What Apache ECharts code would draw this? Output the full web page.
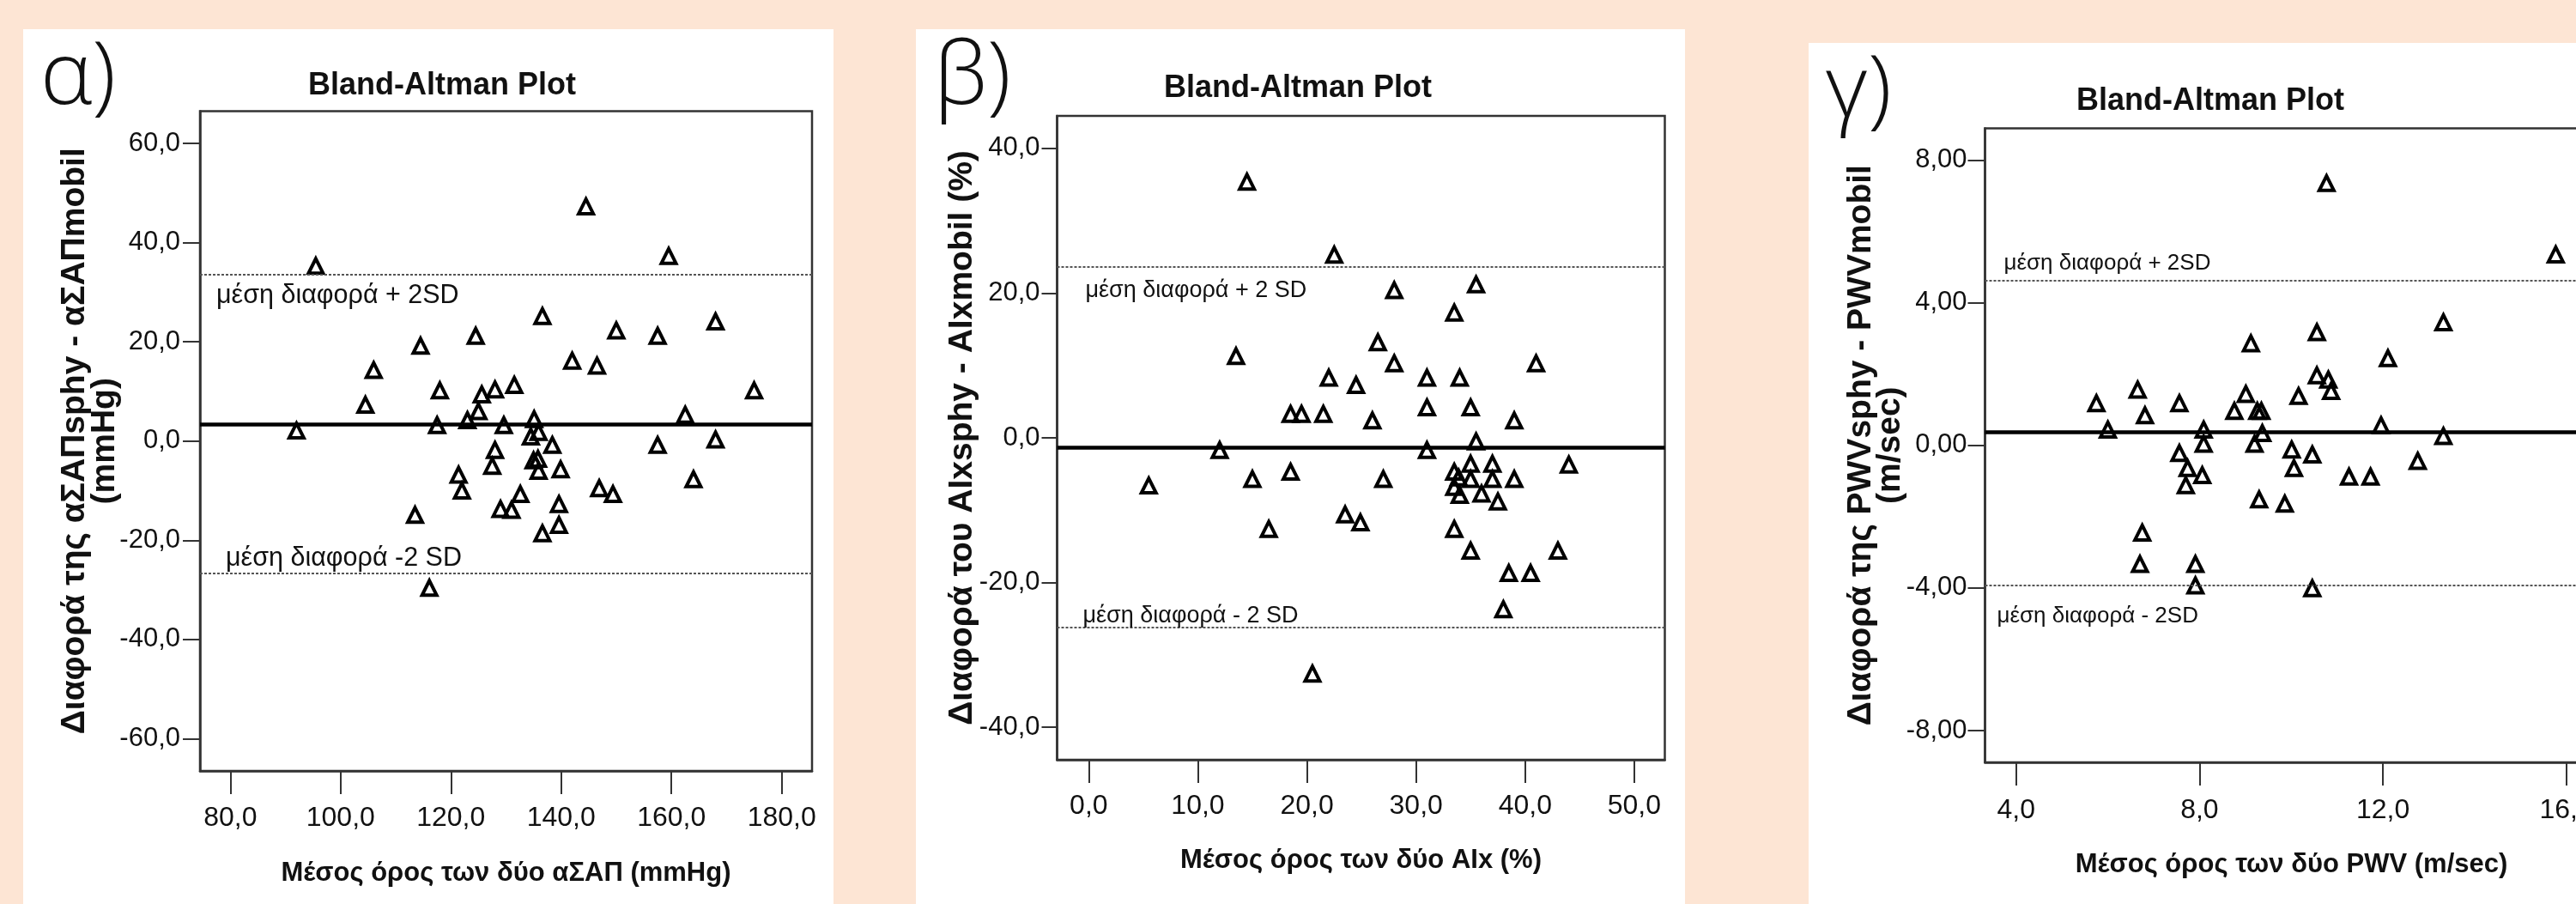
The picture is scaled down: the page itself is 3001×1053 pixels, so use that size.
<!DOCTYPE html>
<html>
<head>
<meta charset="utf-8">
<title>Bland-Altman Plots</title>
<script src="https://cdn.jsdelivr.net/npm/echarts@6/dist/echarts.min.js"></script>
<style>
html, body { margin: 0; padding: 0; overflow: hidden; background: #fde5d4; }
#main { width: 3040px; height: 1053px; }
</style>
</head>
<body>
<div id="main"></div>
<script>
// α) aΣΑΠ (mmHg): mean of the two vs difference
const alphaAvg = [144.5, 95.5, 136.6, 168.0, 124.5, 114.5, 106.0, 142.0, 146.5, 118.0,
  128.0, 125.6, 131.5, 104.5, 125.0, 123.0, 92.0, 117.5, 129.6, 135.1,
  135.9, 134.5, 138.4, 128.0, 127.5, 135.0, 135.8, 135.9, 139.9, 121.4,
  122.0, 132.6, 129.0, 131.0, 139.6, 139.6, 136.6, 113.5, 146.9, 149.4,
  116.1, 159.5, 150.0, 157.5, 175.0, 162.5, 157.5, 168.0, 164.0];
const alphaDiff = [47.3, 35.3, 25.2, 24.1, 21.2, 19.2, 14.3, 16.2, 15.2, 10.2,
  10.4, 9.4, 11.3, 7.3, 6.0, 4.2, 2.1, 3.2, 3.2, 4.4,
  1.8, 0.9, -0.8, -1.8, -5.0, -3.9, -3.6, -6.0, -5.7, -6.8,
  -10.0, -10.7, -13.7, -13.9, -12.7, -16.9, -18.6, -14.9, -9.5, -10.7,
  -29.6, 37.3, 22.3, 21.2, 10.2, 5.3, -0.8, 0.3, -7.7];
const alphaLimits = [3.4, 33.5, -26.7]; // mean, +2SD, -2SD
const alphaXTicks = [80, 100, 120, 140, 160, 180];
const alphaYTicks = [-60, -40, -20, 0, 20, 40, 60];

// β) AIx (%)
const betaAvg = [14.5, 22.5, 28.0, 35.5, 33.5, 26.5, 13.5, 28.0, 41.0, 22.0,
  24.5, 31.0, 34.0, 31.0, 35.0, 18.5, 19.5, 21.5, 26.0, 39.0,
  12.0, 31.0, 35.5, 5.5, 15.0, 18.5, 27.0, 44.0, 16.5, 23.5,
  24.9, 33.5, 35.0, 43.0, 38.5, 40.5, 38.0, 20.5, 33.5, 35.0,
  37.0, 33.9, 35.0, 37.0, 39.0, 33.5, 34.0, 36.0, 37.5];
const betaDiff = [35.4, 25.3, 20.4, 21.2, 17.3, 13.2, 11.3, 10.3, 10.3, 8.3,
  7.3, 8.3, 8.3, 4.2, 4.2, 3.3, 3.3, 3.3, 2.4, 2.4,
  -1.7, -1.7, -0.5, -6.6, -5.7, -4.7, -5.7, -3.7, -12.6, -10.6,
  -11.7, -12.6, -15.6, -15.6, -18.7, -18.7, -23.7, -32.6, -4.7, -3.6,
  -3.6, -5.5, -5.7, -5.7, -5.7, -6.8, -7.9, -7.7, -8.8];
const betaLimits = [-1.3, 23.6, -26.2];
const betaXTicks = [0, 10, 20, 30, 40, 50];
const betaYTicks = [-40, -20, 0, 20, 40];

// γ) PWV (m/sec)
const gammaAvg = [10.56, 9.12, 10.56, 6.65, 9.01, 5.75, 7.56, 10.16, 8.76, 9.26,
  9.35, 6.81, 6.00, 8.09, 9.37, 8.09, 9.20, 7.56, 10.01, 10.46,
  7.74, 8.06, 7.70, 10.06, 9.30, 9.86, 6.75, 6.70, 7.91, 7.91,
  10.46, 10.77, 15.77, 13.32, 12.11, 10.81, 10.87, 11.96, 13.32, 12.76,
  11.26, 11.73];
const gammaDiff = [3.17, 2.86, 1.96, 1.56, 1.44, 1.18, 1.18, 1.38, 0.96, 0.96,
  0.96, 0.84, 0.44, 0.44, 0.34, 0.04, 0.04, -0.22, -0.12, -0.26,
  -0.64, -0.84, -1.12, -0.64, -1.52, -1.64, -2.45, -3.33, -3.33, -3.93,
  -4.01, 7.35, 5.35, 3.45, 2.44, 1.84, 1.52, 0.56, 0.26, -0.44,
  -0.88, -0.88];
const gammaLimits = [0.36, 4.63, -3.92];
const gammaXTicks = [4, 8, 12, 16];
const gammaYTicks = [-8, -4, 0, 4, 8];

const FONT = '"Liberation Sans", Arial, Helvetica, sans-serif';
const comma = d => v => Number(v).toFixed(d).replace('.', ',');

const panels = [
  {
    letter: 'α)', letterPos: [47, 92], title: [515, 100],
    panel: [27, 34, 944, 1030],
    grid: { left: 233, top: 129.5, width: 713, height: 768.5 },
    x: [74.5, 185.5], y: [-66.5, 66.5], xTicks: alphaXTicks, yTicks: alphaYTicks, yDec: 1,
    xName: 'Μέσος όρος των δύο αΣΑΠ (mmHg)', xNameGap: 104,
    yName: 'Διαφορά της αΣΑΠsphy - αΣΑΠmobil\n(mmHg)', yNameGap: 93, yNameLH: 35,
    yTickLen: 20, yLabelMargin: 23, xLabelMargin: 39,
    avg: alphaAvg, diff: alphaDiff, lim: alphaLimits,
    up: { text: 'μέση διαφορά + 2SD', pos: 'insideStartBottom', dist: [19, 9] },
    lo: { text: 'μέση διαφορά -2 SD', pos: 'insideStartTop', dist: [30, 2] },
    lblSize: 30.5
  },
  {
    letter: 'β)', letterPos: [1088, 92], title: [1512, 103],
    panel: [1067, 34, 896, 1030],
    grid: { left: 1231.5, top: 135, width: 708, height: 750 },
    x: [-2.9, 52.8], y: [-44.5, 44.5], xTicks: betaXTicks, yTicks: betaYTicks, yDec: 1,
    xName: 'Μέσος όρος των δύο AIx (%)', xNameGap: 102,
    yName: 'Διαφορά του AIxsphy - AIxmobil (%)', yNameGap: 90, yNameLH: 40,
    yTickLen: 18, yLabelMargin: 20, xLabelMargin: 38,
    avg: betaAvg, diff: betaDiff, lim: betaLimits,
    up: { text: 'μέση διαφορά + 2 SD', pos: 'insideStartBottom', dist: [33, 14] },
    lo: { text: 'μέση διαφορά - 2 SD', pos: 'insideStartTop', dist: [30, 0] },
    lblSize: 27
  },
  {
    letter: 'γ)', letterPos: [2127, 108], title: [2575, 118],
    panel: [2107, 50, 960, 1010],
    grid: { left: 2312.5, top: 149.4, width: 714, height: 738.6 },
    x: [3.32, 16.69], y: [-8.89, 8.89], xTicks: gammaXTicks, yTicks: gammaYTicks, yDec: 2,
    xName: 'Μέσος όρος των δύο PWV (m/sec)', xNameGap: 104,
    yName: 'Διαφορά της PWVsphy - PWVmobil\n(m/sec)', yNameGap: 93, yNameLH: 34,
    yTickLen: 20, yLabelMargin: 21, xLabelMargin: 40,
    avg: gammaAvg, diff: gammaDiff, lim: gammaLimits,
    up: { text: 'μέση διαφορά + 2SD', pos: 'insideStartTop', dist: [22, 7] },
    lo: { text: 'μέση διαφορά - 2SD', pos: 'insideStartBottom', dist: [14, 23] },
    lblSize: 26
  }
];

const frame = '#333';
const dashed = { type: [3, 2], color: '#555', width: 2 };

function limitLabel(p, l) {
  return {
    show: true, position: l.pos, distance: l.dist, formatter: l.text,
    fontFamily: FONT, fontSize: p.lblSize, lineHeight: p.lblSize, color: '#111'
  };
}

const option = {
  backgroundColor: '#fde5d4',
  animation: false,
  graphic: [].concat(...panels.map(p => [
    { type: 'rect', z: -10, silent: true,
      shape: { x: p.panel[0], y: p.panel[1], width: p.panel[2], height: p.panel[3] },
      style: { fill: '#fff' } },
    { type: 'text', z: 10, silent: true, x: p.letterPos[0], y: p.letterPos[1],
      style: { text: p.letter, fontFamily: '"Open Sans", Lato, sans-serif', fontWeight: 300,
        fontSize: 102, fill: '#111', align: 'left', verticalAlign: 'middle' } },
    { type: 'text', z: 10, silent: true, x: p.title[0], y: p.title[1],
      style: { text: 'Bland-Altman Plot', fontFamily: FONT, fontWeight: 'bold',
        fontSize: 36, fill: '#111', align: 'center', verticalAlign: 'middle' } }
  ])),
  grid: panels.map(p => Object.assign({
    show: true, backgroundColor: '#fff', borderColor: frame, borderWidth: 2.5,
    containLabel: false, outerBoundsMode: 'none'
  }, p.grid)),
  xAxis: panels.map((p, i) => ({
    gridIndex: i, type: 'value', min: p.x[0], max: p.x[1],
    name: p.xName, nameLocation: 'middle', nameGap: p.xNameGap, nameMoveOverlap: false,
    nameTextStyle: { fontFamily: FONT, fontSize: 31, fontWeight: 'bold', color: '#111', lineHeight: 31 },
    axisLine: { show: true, onZero: false, lineStyle: { color: frame, width: 2.5 } },
    axisTick: { show: true, length: 27, customValues: p.xTicks, lineStyle: { color: frame, width: 2 } },
    axisLabel: { customValues: p.xTicks, margin: p.xLabelMargin, formatter: comma(1),
      fontFamily: FONT, fontSize: 32, color: '#111' },
    splitLine: { show: false }
  })),
  yAxis: panels.map((p, i) => ({
    gridIndex: i, type: 'value', min: p.y[0], max: p.y[1],
    name: p.yName, nameLocation: 'middle', nameRotate: 90, nameGap: p.yNameGap, nameMoveOverlap: false,
    nameTextStyle: { fontFamily: FONT, fontSize: 39, fontWeight: 'bold', color: '#111',
      lineHeight: p.yNameLH, align: 'center' },
    axisLine: { show: true, onZero: false, lineStyle: { color: frame, width: 2.5 } },
    axisTick: { show: true, length: p.yTickLen, customValues: p.yTicks, lineStyle: { color: frame, width: 2 } },
    axisLabel: { customValues: p.yTicks, margin: p.yLabelMargin, formatter: comma(p.yDec),
      fontFamily: FONT, fontSize: 31, color: '#111', verticalAlign: 'middle', padding: [24, 0, 0, 0] },
    splitLine: { show: false }
  })),
  series: panels.map((p, i) => ({
    type: 'scatter', xAxisIndex: i, yAxisIndex: i,
    data: p.avg.map((a, k) => [a, p.diff[k]]),
    symbol: 'triangle', symbolSize: [17, 17],
    itemStyle: { color: 'rgba(255,255,255,0)', borderColor: '#000', borderWidth: 4, opacity: 1 },
    emphasis: { disabled: true },
    silent: true, z: 3,
    markLine: {
      silent: true, symbol: 'none', animation: false,
      data: [
        { yAxis: p.lim[0], lineStyle: { type: 'solid', color: '#000', width: 4.5 }, label: { show: false } },
        { yAxis: p.lim[1], lineStyle: dashed, label: limitLabel(p, p.up) },
        { yAxis: p.lim[2], lineStyle: dashed, label: limitLabel(p, p.lo) }
      ]
    }
  }))
};

const chart = echarts.init(document.getElementById('main'), null, { renderer: 'canvas' });
chart.setOption(option);
</script>
</body>
</html>
